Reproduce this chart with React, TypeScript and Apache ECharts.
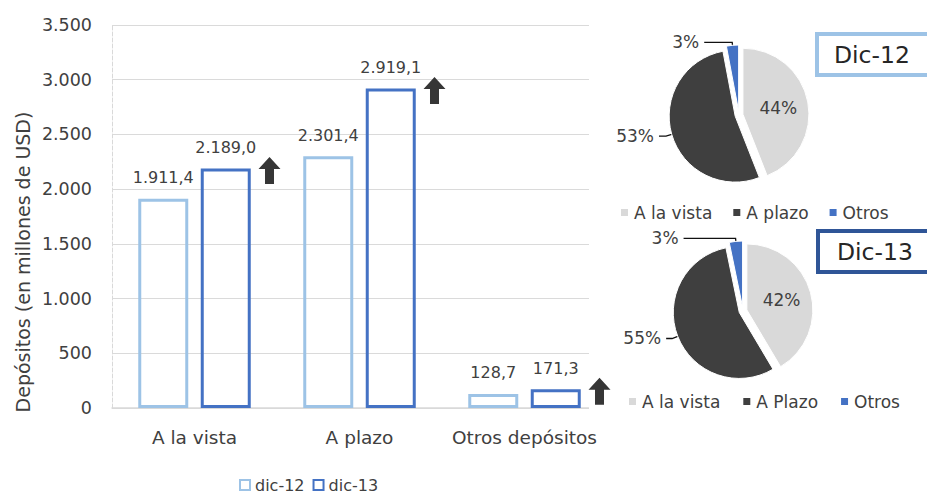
import React, { useEffect, useRef } from "react";
import * as echarts from "echarts";

const categories = ["A la vista", "A plazo", "Otros depósitos"];
const dic12 = [1911.4, 2301.4, 128.7];
const dic13 = [2189.0, 2919.1, 171.3];
const barSeriesNames = ["dic-12", "dic-13"];
const pieNames12 = ["A la vista", "A plazo", "Otros"];
const pieNames13 = ["A la vista", "A Plazo", "Otros"];
const pieTitles = ["Dic-12", "Dic-13"];
const yAxisTitle = "Depósitos (en millones de USD)";

const FONT = "DejaVu Sans";
const TXT = "#404040";
const LIGHT_BLUE = "#9DC3E6";
const BLUE = "#4472C4";
const DARK_BLUE = "#2F5597";
const PIE_COLORS = ["#D9D9D9", "#3F3F3F", "#4472C4"];

const thousands = (s: string) => s.replace(/\B(?=(\d{3})+(?!\d))/g, ".");
const fmtBar = (v: number) => {
  const [i, d] = v.toFixed(1).split(".");
  return thousands(i) + "," + d;
};

const pieData = (names: string[], values: number[], lines: number[][]) =>
  names.map((n, i) => ({
    name: n,
    value: values[i],
    selected: true,
    itemStyle: { color: PIE_COLORS[i] },
    label: i === 0 ? { position: "inside" } : { position: "outside" },
    labelLine: i === 0 ? { show: false } : { show: true, length: lines[i][0], length2: lines[i][1] },
  }));

export default function App() {
  const ref = useRef<HTMLDivElement>(null);
  useEffect(() => {
    if (!ref.current) return;
    const chart = echarts.init(ref.current, undefined, { renderer: "svg" });
    const pieCommon = {
      type: "pie",
      radius: 66,
      startAngle: 90,
      clockwise: true,
      avoidLabelOverlap: false,
      percentPrecision: 0,
      selectedMode: "multiple",
      selectedOffset: 4,
      label: { fontSize: 17, color: TXT, fontFamily: FONT, formatter: "{d}%" },
      labelLine: { lineStyle: { color: "#111", width: 1.3 } },
      itemStyle: { borderColor: "#fff", borderWidth: 1 },
      select: { itemStyle: { borderColor: "#fff", borderWidth: 1 } },
      emphasis: { disabled: true },
    };
    const titleText = { fontSize: 23.5, lineHeight: 28, fontWeight: "normal", color: "#262626", fontFamily: FONT };
    chart.setOption({
      animation: false,
      textStyle: { fontFamily: FONT },
      grid: { left: 112, right: 320, top: 25, bottom: 86 },
      title: [
        {
          text: pieTitles[0],
          left: 817,
          top: 34,
          padding: [7, 40, 6, 17],
          borderColor: LIGHT_BLUE,
          borderWidth: 4,
          textStyle: titleText,
        },
        {
          text: pieTitles[1],
          left: 818,
          top: 231,
          padding: [7, 40, 6, 19],
          borderColor: DARK_BLUE,
          borderWidth: 4,
          textStyle: titleText,
        },
      ],
      legend: [
        {
          left: 234,
          top: 472,
          icon: "rect",
          itemWidth: 10,
          itemHeight: 10,
          itemGap: 8,
          textStyle: { fontSize: 16, color: TXT, fontFamily: FONT },
          data: [
            { name: barSeriesNames[0], itemStyle: { color: "#fff", borderColor: LIGHT_BLUE, borderWidth: 2 } },
            { name: barSeriesNames[1], itemStyle: { color: "#fff", borderColor: BLUE, borderWidth: 2 } },
          ],
        },
        {
          left: 614,
          top: 199,
          icon: "rect",
          itemWidth: 9,
          itemHeight: 9,
          itemGap: 19,
          textStyle: { fontSize: 17, color: TXT, fontFamily: FONT },
          data: pieNames12,
        },
        {
          left: 622,
          top: 388,
          icon: "rect",
          itemWidth: 9,
          itemHeight: 9,
          itemGap: 21,
          textStyle: { fontSize: 17, color: TXT, fontFamily: FONT },
          data: pieNames13,
        },
      ],
      xAxis: {
        type: "category",
        data: categories,
        axisLine: { lineStyle: { color: "#D9D9D9", width: 1.5 } },
        axisTick: { show: false },
        axisLabel: { interval: 0, fontSize: 18.5, color: TXT, margin: 20, fontFamily: FONT },
      },
      yAxis: {
        type: "value",
        min: 0,
        max: 3500,
        interval: 500,
        axisLine: { show: true, lineStyle: { color: "#D9D9D9", type: "dashed" } },
        axisTick: { show: false },
        splitLine: { lineStyle: { color: "#DADADA", width: 1.2 } },
        axisLabel: {
          fontSize: 17.5,
          color: TXT,
          margin: 20,
          fontFamily: FONT,
          formatter: (v: number) => thousands(String(v)),
        },
      },
      graphic: [
        {
          type: "rect",
          z: 1,
          shape: { x: 589, y: 10, width: 25, height: 404 },
          style: { fill: "#fff" },
          silent: true,
        },
        {
          type: "text",
          x: 23,
          y: 262,
          rotation: Math.PI / 2,
          style: {
            text: yAxisTitle,
            fontSize: 19,
            fontFamily: FONT,
            fill: TXT,
            align: "center",
            verticalAlign: "middle",
            textAlign: "center",
            textVerticalAlign: "middle",
          },
        },
      ],
      series: [
        {
          name: barSeriesNames[0],
          type: "bar",
          data: dic12,
          barWidth: 50,
          barGap: "25%",
          itemStyle: { color: "rgba(255,255,255,0)", borderColor: LIGHT_BLUE, borderWidth: 3 },
          label: {
            show: true,
            position: "top",
            distance: 13,
            fontSize: 16,
            color: TXT,
            fontFamily: FONT,
            formatter: (p: any) => fmtBar(p.value),
          },
          emphasis: { disabled: true },
        },
        {
          name: barSeriesNames[1],
          type: "bar",
          data: dic13,
          barWidth: 50,
          barGap: "25%",
          itemStyle: { color: "rgba(255,255,255,0)", borderColor: BLUE, borderWidth: 3 },
          label: {
            show: true,
            position: "top",
            distance: 13,
            fontSize: 16,
            color: TXT,
            fontFamily: FONT,
            formatter: (p: any) => fmtBar(p.value),
          },
          emphasis: { disabled: true },
        },
        {
          name: "up",
          type: "scatter",
          data: dic13.map((v, i) => [i, v]),
          symbol: "path://M11,0 L22,12 L15.5,12 L15.5,27 L6.5,27 L6.5,12 L0,12 Z",
          symbolSize: [22, 27],
          symbolOffset: [75, 2],
          itemStyle: { color: "#363636", opacity: 1 },
          silent: true,
          z: 5,
        },
        {
          ...pieCommon,
          name: pieTitles[0],
          center: [739, 115],
          data: pieData(pieNames12, dic12, [[0, 0], [6, 7], [3, 28]]),
        },
        {
          ...pieCommon,
          name: pieTitles[1],
          center: [743, 311],
          data: pieData(pieNames13, dic13, [[0, 0], [6, 6], [3, 52]]),
        },
      ],
    });
    return () => chart.dispose();
  }, []);
  return (
    <div
      ref={ref}
      style={{ position: "fixed", left: 0, top: 0, width: 927, height: 494, background: "#fff" }}
    />
  );
}
